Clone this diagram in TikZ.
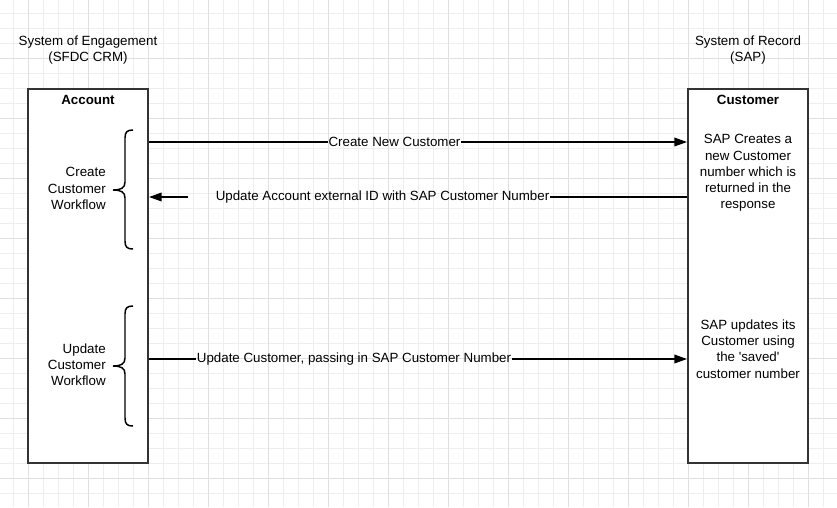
\documentclass[tikz,border=0pt]{standalone}
\usepackage{fontspec}
\setmainfont{Liberation Sans}
\usetikzlibrary{arrows.meta}
\definecolor{gridminor}{HTML}{EEEEEE}
\definecolor{gridmajor}{HTML}{E0E0E0}
\definecolor{boxline}{HTML}{333333}
\begin{document}
\begin{tikzpicture}[x=0.75pt,y=-0.75pt,
  font=\fontsize{10}{12.2}\selectfont,
  lane/.style={draw=boxline, line width=1.5pt, fill=white, minimum width=90pt, minimum height=280.5pt, inner sep=0pt},
  txt/.style={inner sep=0pt, align=center},
  lbl/.style={inner sep=0.6pt, outer sep=0pt},
  conn/.style={line width=1.1pt, black},
  tip/.style={-{Triangle[length=9.5pt,width=6.5pt]}},
  curly/.style={line width=1.1pt, black}]
\useasboundingbox (0,0) rectangle (837,507);
% grid
\foreach \x in {13,28,...,828} \draw[gridminor, line width=0.75pt] (\x,0) -- (\x,507);
\foreach \y in {13,28,...,505} \draw[gridminor, line width=0.75pt] (0,\y) -- (837,\y);
\foreach \x in {28,88,...,808} \draw[gridmajor, line width=0.75pt] (\x,0) -- (\x,507);
\foreach \y in {58,118,...,478} \draw[gridmajor, line width=0.75pt] (0,\y) -- (837,\y);
% headers
\node[txt] (h1) at (88,50) {System of Engagement\\(SFDC CRM)};
\node[txt] (h2) at (748,50) {System of Record\\(SAP)};
% lanes
\node[lane] (acc) at (88,276) {};
\node[lane] (cus) at (748,276) {};
\node[txt, font=\fontsize{10}{12.2}\selectfont\bfseries] (acct) at (88,99.5) {Account};
\node[txt, font=\fontsize{10}{12.2}\selectfont\bfseries] (cust) at (748,99.5) {Customer};
% left workflow labels
\node[txt, align=right, anchor=east] (wf1) at (106,188.5) {Create\\Customer\\Workflow};
\node[txt, align=right, anchor=east] (wf2) at (106,364.5) {Update\\Customer\\Workflow};
% braces
\draw[curly] (133,130) .. controls (127,130) and (125,132) .. (125,138) -- (125,182)
  .. controls (125,188) and (121,190) .. (113,190)
  .. controls (121,190) and (125,192) .. (125,198) -- (125,241)
  .. controls (125,247) and (127,249) .. (133,249);
\draw[curly] (133,306) .. controls (127,306) and (125,308) .. (125,314) -- (125,358)
  .. controls (125,364) and (121,366) .. (113,366)
  .. controls (121,366) and (125,368) .. (125,374) -- (125,418)
  .. controls (125,424) and (127,426) .. (133,426);
% right texts
\node[txt] (r1) at (748,173) {SAP Creates a\\new Customer\\number which is\\returned in the\\response};
\node[txt] (r2) at (748,349) {SAP updates its\\Customer using\\the \textquotesingle saved\textquotesingle\\customer number};
% connectors
\node[lbl] (l1) at (394.5,142) {Create New Customer};
\draw[conn] (acc.east |- l1) -- (l1);
\draw[conn, tip] (l1) -- (cus.west |- l1);
\node[lbl] (l2) at (382.5,197) {Update Account external ID with SAP Customer Number};
\coordinate (g2) at (188,197);
\draw[conn] (cus.west |- l2) -- (l2);
\draw[conn, tip] (g2) -- (acc.east |- g2);
\node[lbl] (l3) at (354,359) {Update Customer, passing in SAP Customer Number};
\draw[conn] (acc.east |- l3) -- (l3);
\draw[conn, tip] (l3) -- (cus.west |- l3);
\end{tikzpicture}
\end{document}
